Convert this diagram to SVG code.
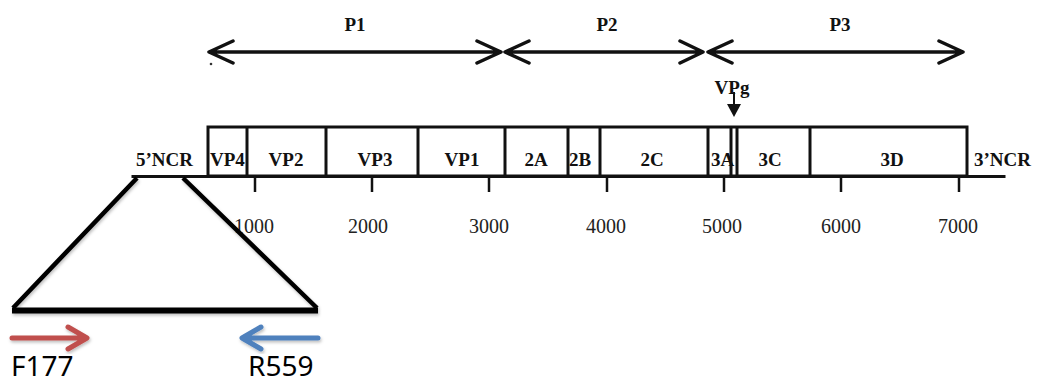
<svg xmlns="http://www.w3.org/2000/svg" width="1038" height="385" viewBox="0 0 1038 385">
  <defs>
    <style>
      .lbl { font-family: "Liberation Serif", "Times New Roman", serif; font-weight: bold; font-size: 19px; fill: #111; }
      .num { font-family: "Liberation Serif", "Times New Roman", serif; font-size: 20px; fill: #222; text-anchor: middle; }
      .prm { font-family: "Noto Sans", "Open Sans", sans-serif; font-size: 28px; fill: #000; }
      .ln { stroke: #111; stroke-width: 3; fill: none; stroke-linecap: square; }
      .div { stroke: #111; stroke-width: 3; }
      .arw { stroke: #111; stroke-width: 3.5; fill: none; stroke-linecap: round; stroke-linejoin: round; }
      .trap { stroke: #000; stroke-width: 4.5; fill: none; }
    </style>
    <filter id="shadow" x="-10%" y="-10%" width="120%" height="130%">
      <feDropShadow dx="1" dy="2" stdDeviation="1.5" flood-color="#000" flood-opacity="0.25"/>
    </filter>
  </defs>

  <!-- polyprotein regions P1, P2, P3 -->
  <g id="regions">
    <g id="P1">
      <text class="lbl" x="355" y="31" text-anchor="middle">P1</text>
      <path class="arw" d="M209 52 H501 M233 41 L209 52 L233 63 M477 41 L501 52 L477 63"/>
    </g>
    <g id="P2">
      <text class="lbl" x="607" y="31" text-anchor="middle">P2</text>
      <path class="arw" d="M505 52 H703 M529 41 L505 52 L529 63 M680 41 L703 52 L680 63"/>
    </g>
    <g id="P3">
      <text class="lbl" x="840" y="31" text-anchor="middle">P3</text>
      <path class="arw" d="M708 52 H963 M732 41 L708 52 L732 63 M939 41 L963 52 L939 63"/>
    </g>
    <circle cx="211" cy="64" r="1.3" fill="#333"/>
  </g>

  <!-- VPg marker -->
  <g id="VPg">
    <text class="lbl" x="732" y="94" text-anchor="middle">VPg</text>
    <line x1="734" y1="92" x2="734" y2="106" stroke="#111" stroke-width="2"/>
    <polygon points="727,104 741,104 734,117" fill="#111"/>
  </g>

  <!-- genome map -->
  <g id="genome">
    <text class="lbl" x="136" y="166">5’NCR</text>
    <text class="lbl" x="210" y="166">VP4</text>
    <text class="lbl" x="286" y="166" text-anchor="middle">VP2</text>
    <text class="lbl" x="375" y="166" text-anchor="middle">VP3</text>
    <text class="lbl" x="462" y="166" text-anchor="middle">VP1</text>
    <text class="lbl" x="536" y="166" text-anchor="middle">2A</text>
    <text class="lbl" x="580" y="166" text-anchor="middle">2B</text>
    <text class="lbl" x="652" y="166" text-anchor="middle">2C</text>
    <text class="lbl" x="711" y="166">3A</text>
    <text class="lbl" x="770" y="166" text-anchor="middle">3C</text>
    <text class="lbl" x="892" y="166" text-anchor="middle">3D</text>
    <text class="lbl" x="974" y="166">3’NCR</text>

    <rect x="208" y="127" width="759" height="49" fill="none" stroke="#111" stroke-width="3"/>
    <g class="div">
      <line x1="247" y1="127" x2="247" y2="176"/>
      <line x1="326" y1="127" x2="326" y2="176"/>
      <line x1="418" y1="127" x2="418" y2="176"/>
      <line x1="505" y1="127" x2="505" y2="176"/>
      <line x1="568" y1="127" x2="568" y2="176"/>
      <line x1="600" y1="127" x2="600" y2="176"/>
      <line x1="708" y1="127" x2="708" y2="176"/>
      <line x1="731" y1="127" x2="731" y2="176"/>
      <line x1="737" y1="127" x2="737" y2="176"/>
      <line x1="810" y1="127" x2="810" y2="176"/>
    </g>
    <line class="ln" x1="133" y1="176.5" x2="1004" y2="176.5"/>
  </g>

  <!-- nucleotide scale -->
  <g id="scale">
    <g stroke="#111" stroke-width="2.5">
      <line x1="255" y1="176" x2="255" y2="192"/>
      <line x1="372" y1="176" x2="372" y2="192"/>
      <line x1="489" y1="176" x2="489" y2="192"/>
      <line x1="607" y1="176" x2="607" y2="192"/>
      <line x1="724" y1="176" x2="724" y2="192"/>
      <line x1="841" y1="176" x2="841" y2="192"/>
      <line x1="959" y1="176" x2="959" y2="192"/>
    </g>
    <text class="num" x="254" y="233">1000</text>
    <text class="num" x="368" y="233">2000</text>
    <text class="num" x="489" y="233">3000</text>
    <text class="num" x="606" y="233">4000</text>
    <text class="num" x="722" y="233">5000</text>
    <text class="num" x="841" y="233">6000</text>
    <text class="num" x="958" y="233">7000</text>
  </g>

  <!-- enlarged 5'NCR segment -->
  <g id="ncr-zoom" filter="url(#shadow)">
    <path class="trap" d="M137 178 L13 308 M183 178 L317 308"/>
    <line x1="12" y1="310.5" x2="318" y2="310.5" stroke="#000" stroke-width="6"/>
  </g>

  <!-- primers -->
  <g id="F177">
    <path d="M12 338 H86 M68 327 L87 338 L68 349" stroke="#C0504D" stroke-width="5" fill="none" stroke-linecap="round" stroke-linejoin="round" filter="url(#shadow)"/>
    <text class="prm" x="11" y="376">F177</text>
  </g>
  <g id="R559">
    <path d="M318 338 H243 M261 327 L242 338 L261 349" stroke="#4F81BD" stroke-width="5" fill="none" stroke-linecap="round" stroke-linejoin="round" filter="url(#shadow)"/>
    <text class="prm" x="248" y="376">R559</text>
  </g>
</svg>
